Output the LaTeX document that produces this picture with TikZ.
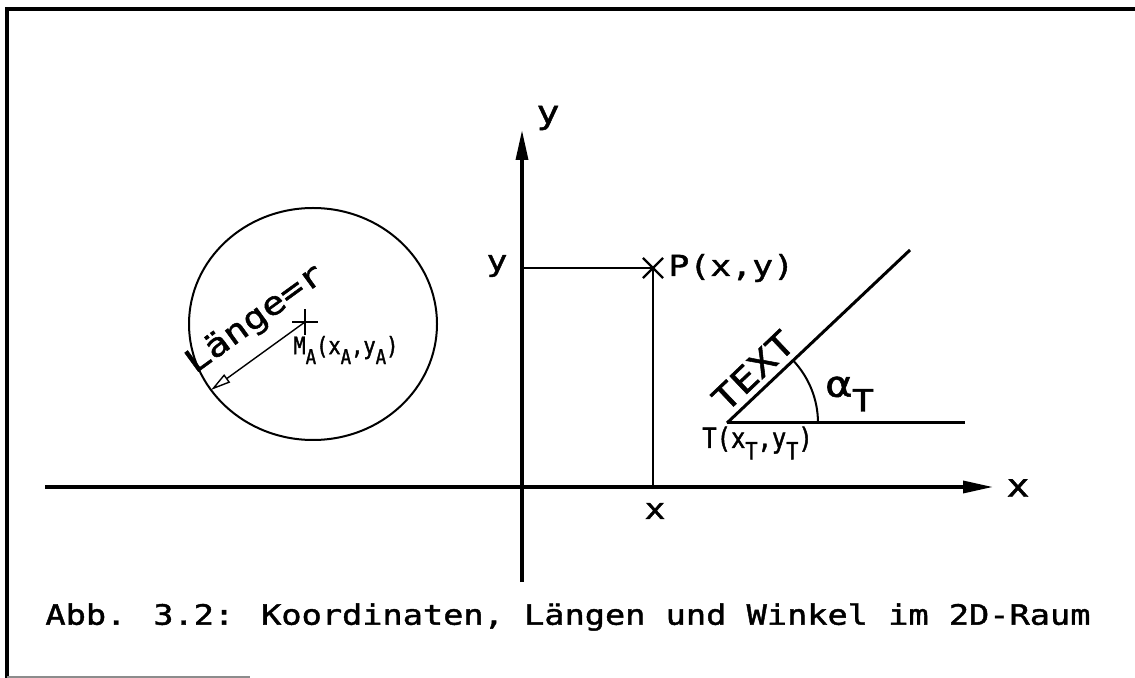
\documentclass[tikz,border=0pt]{standalone}
\usepackage{fontspec}
\newfontfamily\plotter[FakeStretch=1.2,FakeBold=1.5]{DejaVu Sans Mono}
\newfontfamily\plotnarrow[FakeStretch=0.85,FakeBold=1.5]{DejaVu Sans Mono}
\usetikzlibrary{arrows.meta,shapes.misc}
\newcommand{\idx}[1]{\raisebox{-0.75ex}{\scalebox{0.85}{#1}}}

\begin{document}
\begin{tikzpicture}[x=0.5pt,y=-0.5pt,font=\plotter]
\tikzstyle{axis}=[line width=1.7pt,-{Triangle[length=15pt,width=6pt]}]
\tikzstyle{pline}=[line width=1.2pt]
\tikzstyle{kreuz}=[draw,cross out,line width=1.1pt,minimum size=9pt,inner sep=0pt]
\tikzstyle{lbl}=[inner sep=1pt,font=\plotter\fontsize{14.5pt}{16pt}\selectfont]
\tikzstyle{narrow}=[inner sep=1pt,font=\plotnarrow\fontsize{14pt}{16pt}\selectfont]
\useasboundingbox (0,0) rectangle (1135,678);
% frame
\draw[line width=1.6pt] (7,678) -- (7,9) -- (1135,9);
\draw[black!45,line width=0.8pt] (7,677) -- (250,677);
% axes
\coordinate (xl) at (45,487); \coordinate (xr) at (993,487);
\coordinate (yb) at (522,582); \coordinate (yt) at (522,130);
\draw[axis] (xl) -- (xr);
\draw[axis] (yb) -- (yt);
\node[lbl,font=\plotter\fontsize{16pt}{18pt}\selectfont] (xlab) at (1018,488) {x};
\node[lbl,font=\plotter\fontsize{16pt}{18pt}\selectfont] (ylab) at (548,118) {y};
% point P
\node[kreuz] (P) at (653,268) {};
\coordinate (Py) at (522,268); \coordinate (Px) at (653,487);
\draw[pline] (Py) -- (P.center) -- (Px);
\node[lbl,anchor=west] (Plab) at (666,268) {P(x,y)};
\node[lbl] (yval) at (497,266) {y};
\node[lbl] (xval) at (655,511) {x};
% circle with radius
\draw[line width=1pt] (313,324) ellipse [x radius=124, y radius=116];
\node[kreuz,rotate=45,minimum size=8pt] (M) at (305,322) {};
\coordinate (R) at (211,390);
\draw[line width=0.7pt,-{Triangle[open,length=10pt,width=5pt]}] (M.center) -- (R);
\node[lbl,rotate=36,anchor=south,font=\plotter\fontsize{16pt}{18pt}\selectfont] (laenge) at (266,334) {Länge=r};
\node[narrow,anchor=west,font=\plotnarrow\fontsize{12pt}{14pt}\selectfont] (Mlab) at (291,350) {M\idx{A}(x\idx{A},y\idx{A})};
% text angle
\coordinate (T) at (727,423);
\coordinate (Th) at (965,423); \coordinate (Td) at (910,250);
\draw[line width=1.5pt] (T) -- (Th);
\draw[line width=1.5pt] (T) -- (Td);
\draw[line width=1pt] (818,423) arc[start angle=0,end angle=-43.5,radius=91];
\node[lbl,rotate=43.5,anchor=south west,font=\plotter\fontsize{17pt}{19pt}\selectfont] (txt) at (726,417) {TEXT};
\node[lbl,font=\plotter\fontsize{18pt}{20pt}\selectfont] (alpha) at (850,394) {α\idx{T}};
\node[narrow,anchor=west] (Tlab) at (700,443) {T(x\idx{T},y\idx{T})};
% caption
\node[lbl,font=\plotter\fontsize{14pt}{16pt}\selectfont] (caption) at (568,617) {Abb. 3.2: Koordinaten, Längen und Winkel im 2D-Raum};
\end{tikzpicture}
\end{document}
